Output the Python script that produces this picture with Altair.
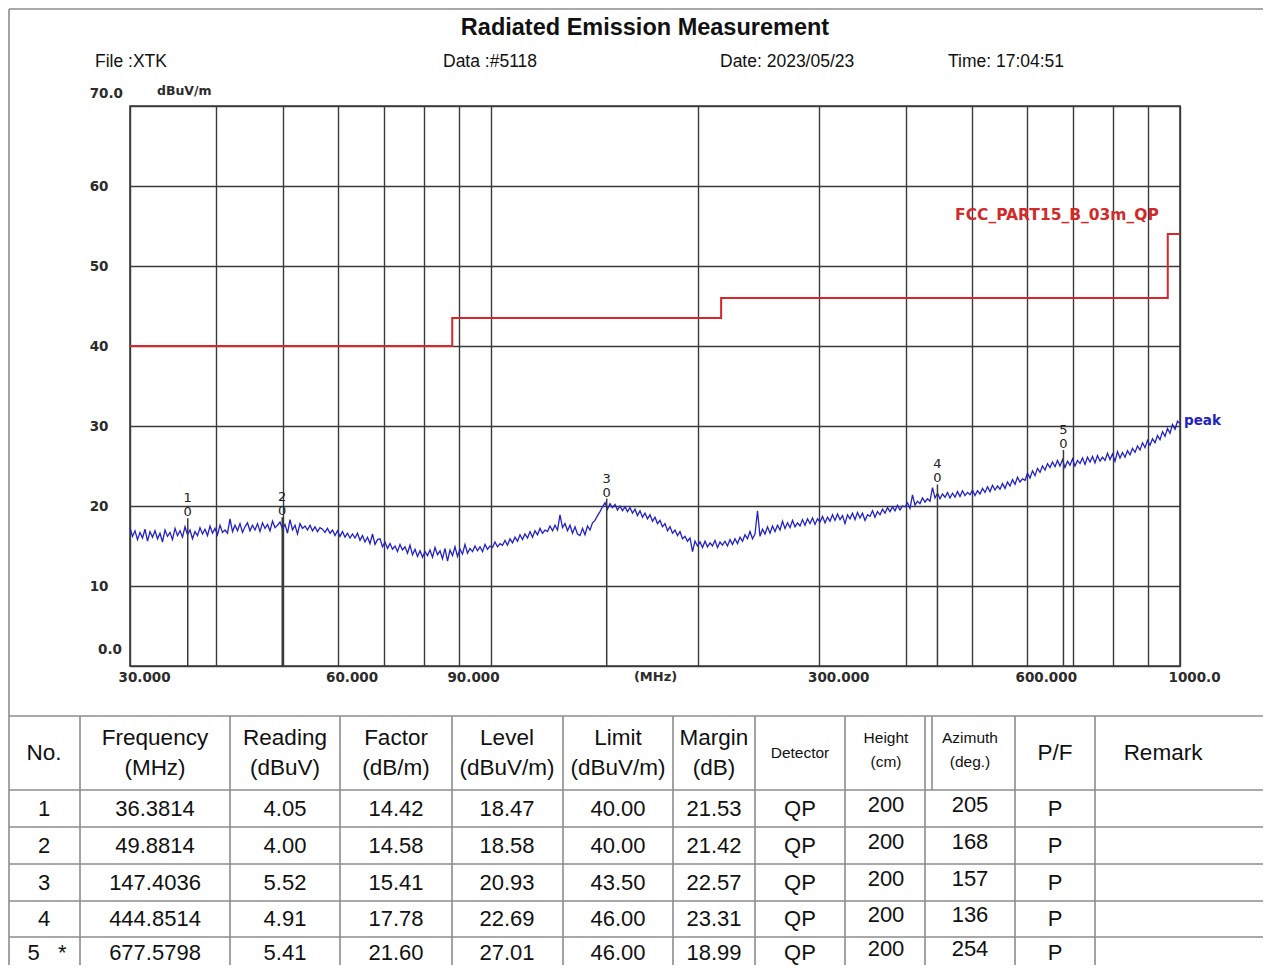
import altair as alt
import numpy as np
import pandas as pd

# ---------------- data ----------------
TITLE = "Radiated Emission Measurement"
INFO_TEXT = ["File :XTK", "Data :#5118", "Date: 2023/05/23", "Time: 17:04:51"]
UNIT_TEXT = "dBuV/m"

GRID_FREQ = [30, 40, 50, 60, 70, 80, 90, 100, 200, 300, 400, 500, 600, 700, 800, 900, 1000]
LABEL_FREQ = [30, 60, 90, 300, 600]
Y_TICKS = [0, 10, 20, 30, 40, 50, 60, 70]

LIMIT_NAME = "FCC_PART15_B_03m_QP"
LIMIT_FREQ = [30, 88, 216, 960, 1000]
LIMIT_LEVEL = [40.0, 43.5, 46.0, 54.0, 54.0]

# peak trace (dBuV/m), log-spaced sweep 30 MHz .. 1000 MHz
PEAK_LEVEL = [
    17.3, 16.2, 16.9, 15.8, 16.7, 16.0, 17.1, 15.6, 16.8, 16.1,
    16.9, 15.9, 16.6, 15.5, 17.0, 16.2, 16.7, 15.8, 17.2, 16.3,
    16.9, 16.1, 17.4, 16.4, 17.0, 15.9, 16.8, 16.3, 17.3, 16.5,
    17.1, 16.3, 17.5, 16.6, 17.2, 16.4, 17.6, 16.7, 17.0, 16.6,
    18.4, 16.8, 17.6, 16.9, 17.8, 16.7, 17.4, 17.9, 16.9, 17.6,
    17.0, 17.8, 16.8, 17.9, 17.2, 17.7, 16.9, 18.1, 17.3, 17.6,
    18.0, 17.1, 17.7, 16.6, 18.3, 17.0, 17.6, 16.5, 17.8, 17.2,
    17.5, 17.0, 17.6, 16.9, 17.4, 16.8, 17.3, 17.1, 16.7, 17.2,
    16.6, 17.0, 16.3, 16.9, 16.2, 16.8, 16.1, 16.6, 16.0, 16.5,
    16.0, 16.6, 15.7, 16.3, 15.5, 16.1, 15.3, 16.5, 15.2, 15.8,
    15.9, 14.9, 15.5, 14.7, 15.3, 14.6, 15.0, 14.3, 15.2, 14.5,
    14.9, 14.1, 15.1, 13.9, 14.6, 13.7, 14.4, 13.6, 14.3, 13.8,
    14.5, 13.6, 14.8, 13.9, 14.4, 13.4, 14.7, 13.1, 14.5, 13.8,
    14.9, 13.7, 14.6, 14.0, 15.2, 14.1, 14.7, 14.3, 15.0, 14.4,
    14.9, 14.3, 15.2, 14.6, 15.0, 14.8, 15.5, 14.9, 15.3, 15.1,
    15.7, 15.1, 15.9, 15.4, 16.1, 15.6, 16.4, 15.8, 16.5, 16.0,
    16.8, 16.1, 16.9, 16.4, 17.2, 16.6, 17.0, 16.8, 17.5, 16.9,
    17.6, 17.0, 18.9, 17.3, 17.8, 16.9, 17.6, 16.6, 17.4, 16.5,
    16.3, 17.2, 16.4, 17.5, 17.0, 17.9, 18.2, 18.8, 19.3, 19.9,
    20.4, 19.6, 20.3, 19.8, 20.2, 19.5, 20.0, 19.4, 19.9, 19.3,
    19.8, 19.1, 19.6, 18.8, 19.4, 18.6, 19.1, 18.4, 18.9, 18.1,
    18.6, 17.8, 18.2, 17.4, 17.8, 16.9, 17.4, 16.6, 17.0, 16.3,
    16.8, 15.9, 16.2, 15.6, 16.0, 14.3, 15.6, 15.0, 15.5, 14.8,
    15.6, 14.9, 15.4, 15.0, 15.7, 14.8, 15.5, 15.1, 15.6, 15.0,
    15.8, 15.2, 15.9, 15.3, 16.1, 15.6, 16.4, 15.9, 16.8, 15.9,
    16.5, 19.4, 16.2, 17.1, 16.5, 17.4, 16.6, 17.5, 16.8, 17.6,
    17.0, 18.1, 17.2, 17.9, 17.3, 18.2, 17.4, 17.9, 17.5, 18.3,
    17.6, 18.4, 17.8, 18.5, 17.7, 18.4, 18.0, 18.7, 17.9, 18.6,
    18.1, 18.9, 18.2, 19.0, 18.3, 18.8, 17.8, 18.9, 18.4, 19.1,
    18.3, 19.2, 18.5, 19.1, 18.2, 18.9, 18.7, 19.4, 18.6, 19.3,
    18.9, 19.6, 19.1, 19.8, 19.3, 19.9, 19.4, 20.1, 19.5, 20.0,
    19.9, 20.4, 19.7, 21.4, 20.1, 20.6, 20.3, 21.0, 20.5, 20.9,
    20.6, 22.3, 21.0, 21.6, 20.9, 21.5, 21.1, 21.7, 21.0, 21.6,
    21.1, 21.8, 21.2, 21.9, 21.3, 21.7, 21.4, 22.0, 21.3, 21.9,
    21.5, 22.2, 21.7, 22.4, 21.8, 22.6, 22.0, 22.5, 22.1, 22.8,
    22.2, 23.0, 22.5, 23.3, 22.7, 23.6, 23.0, 23.4, 23.2, 24.1,
    23.5, 24.4, 23.8, 24.7, 24.2, 25.0, 24.5, 25.3, 24.8, 25.5,
    24.9, 25.7, 25.0, 25.8, 24.8, 25.6, 25.1, 25.9, 25.0, 25.7,
    25.3, 26.0, 25.2, 26.1, 25.5, 26.2, 25.4, 26.3, 25.6, 26.1,
    25.7, 26.6, 25.8, 26.5, 25.6, 26.8, 26.0, 26.7, 26.1, 26.9,
    26.4, 27.2, 26.7, 27.5, 27.0, 27.9, 27.3, 28.2, 27.6, 28.4,
    27.9, 28.8, 28.3, 29.3, 28.7, 29.7, 29.1, 30.2, 29.6, 30.6,
    30.3,
]

MARK_NO = ["1", "2", "3", "4", "5"]
MARK_STAR = ["", "", "", "", "*"]
MARK_FREQ = [36.3814, 49.8814, 147.4036, 444.8514, 677.5798]
MARK_READING = [4.05, 4.00, 5.52, 4.91, 5.41]
MARK_FACTOR = [14.42, 14.58, 15.41, 17.78, 21.60]
MARK_LEVEL = [18.47, 18.58, 20.93, 22.69, 27.01]
MARK_LIMIT = [40.00, 40.00, 43.50, 46.00, 46.00]
MARK_MARGIN = [21.53, 21.42, 22.57, 23.31, 18.99]
MARK_DETECTOR = ["QP", "QP", "QP", "QP", "QP"]
MARK_HEIGHT = [200, 200, 200, 200, 200]
MARK_AZIMUTH = [205, 168, 157, 136, 254]
MARK_PF = ["P", "P", "P", "P", "P"]

HEAD_1 = ["No.", "Frequency", "Reading", "Factor", "Level", "Limit", "Margin",
          "Detector", "Height", "Azimuth", "P/F", "Remark"]
HEAD_2 = ["", "(MHz)", "(dBuV)", "(dB/m)", "(dBuV/m)", "(dBuV/m)", "(dB)",
          "", "(cm)", "(deg.)", "", ""]

# ---------------- layout (page pixels) ----------------
COL_EDGES = [9, 80, 230, 340, 452, 563, 673, 755, 845, 925, 1015, 1095, 1271]
COL_TEXT_X = [44, 155, 285, 396, 507, 618, 714, 800, 886, 970, 1055, 1163]
ROW_EDGES = [716, 790, 827, 864, 901, 937, 978]
ROW_TEXT_Y = [809, 846, 883, 919, 953]
SMALL_HEAD_COLS = [7, 8, 9]

PAGE_X = alt.Scale(domain=[0, 1271], range=[-130, 1141])
PAGE_Y = alt.Scale(domain=[0, 973], range=[-106, 867])

# ---------------- main plot ----------------
trace_df = pd.DataFrame({
    "freq": np.geomspace(30, 1000, len(PEAK_LEVEL)),
    "level": PEAK_LEVEL,
})
limit_df = pd.DataFrame({"freq": LIMIT_FREQ, "level": LIMIT_LEVEL})
mark_df = pd.DataFrame({"no": MARK_NO, "freq": MARK_FREQ, "level": MARK_LEVEL,
                        "zero": [0] * len(MARK_NO), "sym": ["0"] * len(MARK_NO)})

X_SCALE = alt.Scale(type="log", domain=[30, 1000], nice=False)
Y_SCALE = alt.Scale(domain=[0, 70], nice=False, zero=False)

GRID_COLOR = "#3a3a3a"
LBL_FONT = "DejaVu Sans"
TXT_COLOR = "#2b2b2b"
TRACE_COLOR = "#2222c4"

label_list = ",".join(str(v) for v in LABEL_FREQ)
x_axis = alt.Axis(
    values=GRID_FREQ, grid=True, gridColor=GRID_COLOR, gridWidth=1.4, gridOpacity=1,
    domain=False, ticks=False, tickSize=0, labelFlush=False, labelOverlap=False,
    labelExpr=f"indexof([{label_list}], datum.value) >= 0 ? format(datum.value, '.3f') : (datum.value == 1000 ? '1000.0' : '')",
    labelAlign="left", labelOffset=-12, labelBaseline="top", labelPadding=4,
    labelFont=LBL_FONT, labelFontWeight="bold", labelFontSize=13.5, labelColor=TXT_COLOR,
    title="(MHz)", titleFont=LBL_FONT, titleFontWeight="bold", titleFontSize=13,
    titleColor=TXT_COLOR, titleY=4, titleBaseline="top",
)
y_axis = alt.Axis(
    values=Y_TICKS, grid=True, gridColor=GRID_COLOR, gridWidth=1.4, gridOpacity=1,
    domain=False, ticks=False, tickSize=0, labelOverlap=False, labelFlush=False,
    labelExpr="datum.value == 0 || datum.value == 70 ? '' : format(datum.value, 'd')",
    labelPadding=22, labelFont=LBL_FONT, labelFontWeight="bold", labelFontSize=13.5,
    labelColor=TXT_COLOR, title=None,
)


def X(f="freq"):
    return alt.X(f"{f}:Q", scale=X_SCALE, axis=None)


def Y(f="level"):
    return alt.Y(f"{f}:Q", scale=Y_SCALE, axis=None)


trace = alt.Chart(trace_df).mark_line(color=TRACE_COLOR, strokeWidth=1.3).encode(
    x=alt.X("freq:Q", scale=X_SCALE, axis=x_axis),
    y=alt.Y("level:Q", scale=Y_SCALE, axis=y_axis),
)
limit = alt.Chart(limit_df).mark_line(color="#d8262b", strokeWidth=2, interpolate="step-after").encode(
    x=X(), y=Y())
mrules = alt.Chart(mark_df).mark_rule(color="#3a3a3a", strokeWidth=1.5).encode(
    x=X(), y=Y("zero"), y2="level:Q")
mnum = alt.Chart(mark_df).mark_text(font=LBL_FONT, fontSize=13, color="#222",
                                    baseline="bottom", dy=-13).encode(x=X(), y=Y(), text="no:N")
msym = alt.Chart(mark_df).mark_text(font=LBL_FONT, fontSize=13, color="#222",
                                    baseline="bottom", dy=1).encode(x=X(), y=Y(), text="sym:N")

top_df = pd.DataFrame({"freq": [30], "level": [70], "txt": ["70.0"]})
bot_df = pd.DataFrame({"freq": [30], "level": [0], "txt": ["0.0"]})
top_lbl = alt.Chart(top_df).mark_text(font=LBL_FONT, fontWeight="bold", fontSize=13.5,
                                      color=TXT_COLOR, align="right", dx=-7, dy=-12).encode(
    x=X(), y=Y(), text="txt:N")
bot_lbl = alt.Chart(bot_df).mark_text(font=LBL_FONT, fontWeight="bold", fontSize=13.5,
                                      color=TXT_COLOR, align="right", dx=-8, dy=-16).encode(
    x=X(), y=Y(), text="txt:N")
unit = alt.Chart(pd.DataFrame({"freq": [30], "level": [70], "txt": [UNIT_TEXT]})).mark_text(
    font=LBL_FONT, fontWeight="bold", fontSize=12.5, color=TXT_COLOR, align="left", dx=27, dy=-15
).encode(x=X(), y=Y(), text="txt:N")
limit_lbl = alt.Chart(pd.DataFrame({"freq": [LIMIT_FREQ[3]], "level": [LIMIT_LEVEL[3]], "txt": [LIMIT_NAME]})).mark_text(
    font=LBL_FONT, fontWeight="bold", fontSize=15.5, color="#d02a2a", align="right", dx=-9, dy=-19
).encode(x=X(), y=Y(), text="txt:N")
peak_lbl = alt.Chart(pd.DataFrame({"freq": [1000], "level": [PEAK_LEVEL[-1]], "txt": ["peak"]})).mark_text(
    font=LBL_FONT, fontWeight="bold", fontSize=13.5, color=TRACE_COLOR, align="left", dx=4, dy=-3
).encode(x=X(), y=Y(), text="txt:N")

main_layers = [trace, limit, mrules, mnum, msym, top_lbl, bot_lbl, unit, limit_lbl, peak_lbl]

# ---------------- page: headers + table ----------------
def PX(f):
    return alt.X(f"{f}:Q", scale=PAGE_X, axis=None)


def PY(f):
    return alt.Y(f"{f}:Q", scale=PAGE_Y, axis=None)


title_df = pd.DataFrame({"px": [645], "py": [28], "txt": [TITLE]})
title = alt.Chart(title_df).mark_text(font="Liberation Sans", fontWeight="bold", fontSize=23.5,
                                      color="#111").encode(x=PX("px"), y=PY("py"), text="txt:N")
info_df = pd.DataFrame({"px": [95, 443, 720, 948], "py": [62] * 4, "txt": INFO_TEXT})
info = alt.Chart(info_df).mark_text(font="Liberation Sans", fontSize=17.5, color="#111",
                                    align="left").encode(x=PX("px"), y=PY("py"), text="txt:N")

big_rows, small_rows = [], []
for i, (h1, h2) in enumerate(zip(HEAD_1, HEAD_2)):
    tgt = small_rows if i in SMALL_HEAD_COLS else big_rows
    if h2:
        tgt.append({"px": COL_TEXT_X[i], "py": 738, "txt": h1})
        tgt.append({"px": COL_TEXT_X[i], "py": 768 if i not in SMALL_HEAD_COLS else 762, "txt": h2})
    else:
        tgt.append({"px": COL_TEXT_X[i], "py": 753, "txt": h1})
head_big = alt.Chart(pd.DataFrame(big_rows)).mark_text(font="Liberation Sans", fontSize=22.5, color="#111").encode(
    x=PX("px"), y=PY("py"), text="txt:N")
head_small = alt.Chart(pd.DataFrame(small_rows)).mark_text(font="Liberation Sans", fontSize=15.5, color="#111").encode(
    x=PX("px"), y=PY("py"), text="txt:N")

NBSP = "\u00a0"
body_rows = []
for r in range(len(MARK_NO)):
    no_txt = MARK_NO[r] + (NBSP * 3 + MARK_STAR[r] if MARK_STAR[r] else "")
    cells = [no_txt, f"{MARK_FREQ[r]:.4f}", f"{MARK_READING[r]:.2f}", f"{MARK_FACTOR[r]:.2f}",
             f"{MARK_LEVEL[r]:.2f}", f"{MARK_LIMIT[r]:.2f}", f"{MARK_MARGIN[r]:.2f}",
             MARK_DETECTOR[r], str(MARK_HEIGHT[r]), str(MARK_AZIMUTH[r]), MARK_PF[r], ""]
    for c, t in enumerate(cells):
        if t == "":
            continue
        dy = -4 if c in (8, 9) else 0
        px = COL_TEXT_X[c] + (3 if (c == 0 and MARK_STAR[r]) else 0)
        body_rows.append({"px": px, "py": ROW_TEXT_Y[r] + dy, "txt": t})
body = alt.Chart(pd.DataFrame(body_rows)).mark_text(font="Liberation Sans", fontSize=22, color="#111").encode(
    x=PX("px"), y=PY("py"), text="txt:N")

lines = []
for y in ROW_EDGES:
    lines.append({"x1": COL_EDGES[0], "x2": COL_EDGES[-1], "y1": y, "y2": y})
for x in COL_EDGES[:-1]:
    lines.append({"x1": x, "x2": x, "y1": ROW_EDGES[0], "y2": 990})
lines.append({"x1": 932, "x2": 932, "y1": ROW_EDGES[0], "y2": ROW_EDGES[1]})
lines.append({"x1": 9, "x2": 9, "y1": 9, "y2": ROW_EDGES[0]})
lines.append({"x1": 9, "x2": 1271, "y1": 9, "y2": 9})
tlines = alt.Chart(pd.DataFrame(lines)).mark_rule(color="#8c8c8c", strokeWidth=1.6).encode(
    x=PX("x1"), x2="x2:Q", y=PY("y1"), y2="y2:Q")

page_layers = [tlines, title, info, head_big, head_small, body]

chart = alt.layer(*page_layers, *main_layers).resolve_scale(
    x="independent", y="independent"
).properties(
    width=1050, height=560,
    autosize=alt.AutoSizeParams(type="none"),
    padding={"left": 122, "top": 98, "right": 83, "bottom": 299},
    background="white",
).configure_view(stroke=GRID_COLOR, strokeWidth=1.6)

chart.save("out.html", embed_options={"renderer": "svg", "actions": False})
